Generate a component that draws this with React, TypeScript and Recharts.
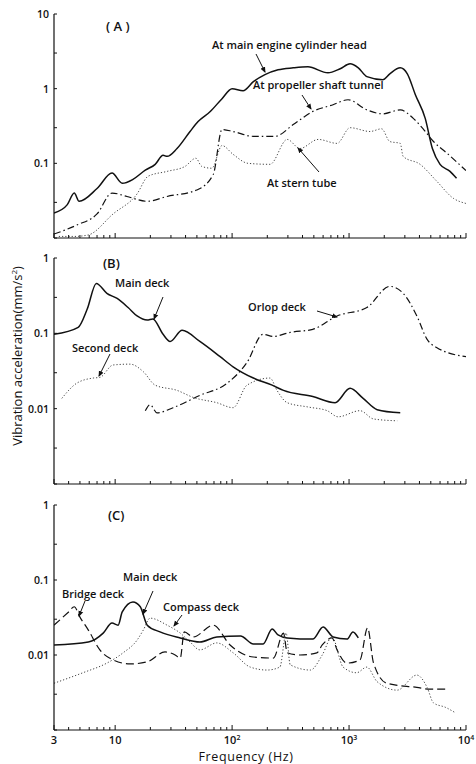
import { LineChart, Line, XAxis, YAxis } from "recharts";

// frequency (Hz) / acceleration (mm/s^2)
const engineHead = [
  { f: 3, v: 0.0216 }, { f: 3.9, v: 0.028 }, { f: 4.47, v: 0.04 }, { f: 4.92, v: 0.031 },
  { f: 7, v: 0.046 }, { f: 9.4, v: 0.074 }, { f: 11.5, v: 0.054 }, { f: 14.2, v: 0.061 },
  { f: 18.1, v: 0.081 }, { f: 22, v: 0.097 }, { f: 25.7, v: 0.128 }, { f: 27.8, v: 0.124 },
  { f: 33.8, v: 0.158 }, { f: 43.7, v: 0.267 }, { f: 51.2, v: 0.363 }, { f: 64.7, v: 0.49 },
  { f: 82, v: 0.735 }, { f: 100, v: 1.0 }, { f: 124, v: 0.94 }, { f: 152, v: 1.24 },
  { f: 191, v: 1.54 }, { f: 247, v: 1.79 }, { f: 333, v: 1.9 }, { f: 445, v: 1.96 },
  { f: 660, v: 1.63 }, { f: 840, v: 1.85 }, { f: 1020, v: 2.15 }, { f: 1200, v: 1.9 },
  { f: 1420, v: 1.45 }, { f: 1940, v: 1.32 }, { f: 2230, v: 1.58 }, { f: 2740, v: 1.9 },
  { f: 3150, v: 1.58 }, { f: 3690, v: 0.83 }, { f: 4480, v: 0.4 }, { f: 5160, v: 0.158 },
  { f: 6000, v: 0.097 }, { f: 7300, v: 0.078 }, { f: 8300, v: 0.063 },
];
const shaftTunnel = [
  { f: 3, v: 0.0113 }, { f: 4.7, v: 0.0149 }, { f: 7, v: 0.021 }, { f: 9.4, v: 0.04 },
  { f: 12.6, v: 0.036 }, { f: 18.8, v: 0.031 }, { f: 27.8, v: 0.036 }, { f: 50, v: 0.044 },
  { f: 69, v: 0.071 }, { f: 82, v: 0.284 }, { f: 102, v: 0.267 }, { f: 152, v: 0.23 },
  { f: 233, v: 0.23 }, { f: 333, v: 0.33 }, { f: 484, v: 0.49 }, { f: 731, v: 0.61 },
  { f: 980, v: 0.71 }, { f: 1420, v: 0.52 }, { f: 1940, v: 0.46 }, { f: 2740, v: 0.52 },
  { f: 3540, v: 0.4 }, { f: 4300, v: 0.29 }, { f: 5270, v: 0.196 }, { f: 6900, v: 0.136 },
  { f: 10000, v: 0.08 },
];
const sternTube = [
  { f: 3.3, v: 0.0105 }, { f: 4.5, v: 0.0105 }, { f: 5.9, v: 0.011 }, { f: 9.6, v: 0.021 },
  { f: 15.4, v: 0.039 }, { f: 19.1, v: 0.067 }, { f: 27.8, v: 0.078 }, { f: 39.6, v: 0.091 },
  { f: 49, v: 0.117 }, { f: 55, v: 0.091 }, { f: 67, v: 0.086 }, { f: 82, v: 0.173 },
  { f: 102, v: 0.132 }, { f: 137, v: 0.1 }, { f: 211, v: 0.097 }, { f: 296, v: 0.209 },
  { f: 380, v: 0.158 }, { f: 545, v: 0.209 }, { f: 790, v: 0.185 }, { f: 1020, v: 0.3 },
  { f: 1510, v: 0.267 }, { f: 1900, v: 0.29 }, { f: 2230, v: 0.196 }, { f: 2740, v: 0.185 },
  { f: 2900, v: 0.124 }, { f: 4050, v: 0.097 }, { f: 5600, v: 0.058 }, { f: 7800, v: 0.034 },
  { f: 10000, v: 0.029 },
];

const mainDeckB = [
  { f: 3, v: 0.097 }, { f: 4.83, v: 0.12 }, { f: 5.77, v: 0.21 }, { f: 6.9, v: 0.46 },
  { f: 8.5, v: 0.34 }, { f: 10.4, v: 0.29 }, { f: 12.9, v: 0.22 }, { f: 15.4, v: 0.17 },
  { f: 18.8, v: 0.15 }, { f: 21, v: 0.155 }, { f: 25.7, v: 0.097 }, { f: 29.5, v: 0.078 },
  { f: 37.4, v: 0.11 }, { f: 53, v: 0.078 }, { f: 79, v: 0.049 }, { f: 102, v: 0.036 },
  { f: 152, v: 0.0255 }, { f: 220, v: 0.0205 }, { f: 275, v: 0.0175 }, { f: 490, v: 0.0145 },
  { f: 760, v: 0.012 }, { f: 1020, v: 0.0186 }, { f: 1320, v: 0.0137 }, { f: 1740, v: 0.0097 },
  { f: 2740, v: 0.0088 },
];
const secondDeckB = [
  { f: 3.5, v: 0.0137 }, { f: 4.7, v: 0.0218 }, { f: 6.5, v: 0.0255 }, { f: 7.4, v: 0.026 },
  { f: 9.6, v: 0.038 }, { f: 13.4, v: 0.039 }, { f: 17.4, v: 0.031 }, { f: 22, v: 0.0205 },
  { f: 33.8, v: 0.0175 }, { f: 46.5, v: 0.0141 }, { f: 74, v: 0.012 }, { f: 102, v: 0.0103 },
  { f: 134, v: 0.0205 }, { f: 211, v: 0.0255 }, { f: 242, v: 0.0175 }, { f: 296, v: 0.012 },
  { f: 450, v: 0.0105 }, { f: 650, v: 0.0094 }, { f: 805, v: 0.0078 }, { f: 1240, v: 0.0094 },
  { f: 1620, v: 0.0073 }, { f: 2580, v: 0.0069 },
];
const orlopDeckB = [
  { f: 18.1, v: 0.0094 }, { f: 19.9, v: 0.0113 }, { f: 22.8, v: 0.0088 }, { f: 31.3, v: 0.0103 },
  { f: 53, v: 0.015 }, { f: 91, v: 0.0218 }, { f: 134, v: 0.041 }, { f: 184, v: 0.097 },
  { f: 225, v: 0.091 }, { f: 314, v: 0.103 }, { f: 490, v: 0.113 }, { f: 790, v: 0.17 },
  { f: 1420, v: 0.22 }, { f: 2230, v: 0.42 }, { f: 2900, v: 0.34 }, { f: 3800, v: 0.17 },
  { f: 4650, v: 0.083 }, { f: 5600, v: 0.065 }, { f: 10000, v: 0.049 },
];

const mainDeckC = [
  { f: 3, v: 0.0136 }, { f: 5.9, v: 0.0149 }, { f: 7.9, v: 0.0196 }, { f: 9.4, v: 0.0267 },
  { f: 10.6, v: 0.025 }, { f: 11.5, v: 0.0375 }, { f: 14.2, v: 0.051 }, { f: 16.4, v: 0.044 },
  { f: 18.8, v: 0.025 }, { f: 24.2, v: 0.0203 }, { f: 36, v: 0.0169 }, { f: 53, v: 0.0149 },
  { f: 74, v: 0.0174 }, { f: 118, v: 0.0179 }, { f: 152, v: 0.014 }, { f: 184, v: 0.014 },
  { f: 220, v: 0.0222 }, { f: 247, v: 0.0185 }, { f: 296, v: 0.0169 }, { f: 490, v: 0.0163 },
  { f: 600, v: 0.0236 }, { f: 731, v: 0.0174 }, { f: 960, v: 0.0163 }, { f: 1080, v: 0.0203 },
  { f: 1200, v: 0.0169 },
];
const bridgeDeckC = [
  { f: 3, v: 0.025 }, { f: 4.0, v: 0.0375 }, { f: 4.47, v: 0.044 }, { f: 5.0, v: 0.032 },
  { f: 5.9, v: 0.0215 }, { f: 7.4, v: 0.0117 }, { f: 9.6, v: 0.0086 }, { f: 13.4, v: 0.0076 },
  { f: 18.8, v: 0.0081 }, { f: 26.7, v: 0.011 }, { f: 32.6, v: 0.01 }, { f: 36, v: 0.0091 },
  { f: 39, v: 0.0203 }, { f: 46.5, v: 0.0174 }, { f: 69, v: 0.025 }, { f: 96, v: 0.0136 },
  { f: 152, v: 0.0094 }, { f: 225, v: 0.0091 }, { f: 275, v: 0.0196 }, { f: 296, v: 0.0107 },
  { f: 380, v: 0.01 }, { f: 530, v: 0.0107 }, { f: 590, v: 0.0136 }, { f: 715, v: 0.0169 },
  { f: 790, v: 0.0117 }, { f: 960, v: 0.0078 }, { f: 1240, v: 0.0086 }, { f: 1440, v: 0.0229 },
  { f: 1620, v: 0.0078 }, { f: 2100, v: 0.0042 }, { f: 3800, v: 0.0037 }, { f: 4930, v: 0.0035 },
  { f: 6900, v: 0.0035 },
];
const compassDeckC = [
  { f: 3, v: 0.0042 }, { f: 5.3, v: 0.0058 }, { f: 8.5, v: 0.0078 }, { f: 11.7, v: 0.0107 },
  { f: 15.4, v: 0.0158 }, { f: 17.4, v: 0.0215 }, { f: 19.9, v: 0.031 }, { f: 27.8, v: 0.025 },
  { f: 36, v: 0.0196 }, { f: 43.7, v: 0.0149 }, { f: 53, v: 0.0117 }, { f: 74, v: 0.0145 },
  { f: 102, v: 0.0107 }, { f: 143, v: 0.0069 }, { f: 199, v: 0.0063 }, { f: 256, v: 0.0069 },
  { f: 290, v: 0.0196 }, { f: 314, v: 0.0074 }, { f: 467, v: 0.0063 }, { f: 590, v: 0.01 },
  { f: 715, v: 0.0174 }, { f: 890, v: 0.0069 }, { f: 1160, v: 0.0058 }, { f: 1420, v: 0.0069 },
  { f: 1740, v: 0.0044 }, { f: 2580, v: 0.0034 }, { f: 3800, v: 0.0054 }, { f: 4650, v: 0.0037 },
  { f: 5270, v: 0.0023 }, { f: 6700, v: 0.002 }, { f: 8100, v: 0.0017 },
];

const freqTicks = [
  3, 4, 5, 6, 7, 8, 9, 10, 20, 30, 40, 50, 60, 70, 80, 90, 100, 200, 300, 400, 500, 600, 700,
  800, 900, 1000, 2000, 3000, 4000, 5000, 6000, 7000, 8000, 9000, 10000,
];
const freqLabels: Record<number, [string, string]> = {
  3: ["3", ""],
  10: ["10", ""],
  100: ["10", "2"],
  1000: ["10", "3"],
  10000: ["10", "4"],
};
const accTicksA = [0.01, 0.03, 0.1, 0.3, 1, 3, 10];
const accTicksBC = [0.001, 0.003, 0.01, 0.03, 0.1, 0.3, 1];
const accLabelsA: Record<string, string> = { "10": "10", "1": "1", "0.1": "0.1" };
const accLabelsBC: Record<string, string> = { "1": "1", "0.1": "0.1", "0.01": "0.01" };

const FONT = "'Open Sans', 'DejaVu Sans', sans-serif";
const INK = "#111";

const solid = { stroke: INK, strokeWidth: 1.5 };
const dashDot = { stroke: INK, strokeWidth: 1.2, strokeDasharray: "7 3 1.5 3" };
const longDash = { stroke: INK, strokeWidth: 1.2, strokeDasharray: "8 4" };
const dotted = { stroke: "#444", strokeWidth: 1, strokeDasharray: "1.2 2" };

function XTick({ x, y, payload, showLabel }: any) {
  const major = [3, 10, 100, 1000, 10000].includes(payload.value);
  const lab = freqLabels[payload.value];
  return (
    <g>
      <line x1={x} x2={x} y1={y} y2={y - (major ? 5 : 3)} stroke={INK} strokeWidth={1} />
      {showLabel && lab && (
        <text x={x} y={y + 14} textAnchor="middle" fontSize={11} fontWeight={600} fontFamily={FONT} fill={INK}>
          {lab[0]}
          {lab[1] && (
            <tspan dy={-4} fontSize={7}>
              {lab[1]}
            </tspan>
          )}
        </text>
      )}
    </g>
  );
}

function YTick({ x, y, payload, labels }: any) {
  const lab = labels[String(payload.value)];
  return (
    <g>
      <line x1={x} x2={x + 3} y1={y} y2={y} stroke={INK} strokeWidth={1} />
      {lab && (
        <text x={x - 5} y={y + 4} textAnchor="end" fontSize={10.5} fontWeight={600} fontFamily={FONT} fill={INK}>
          {lab}
        </text>
      )}
    </g>
  );
}

type Series = { data: { f: number; v: number }[]; style: any; name: string };

function Panel({
  top, height, margin, domain, ticks, labels, series, showLabels,
}: {
  top: number; height: number; margin: any; domain: [number, number]; ticks: number[];
  labels: Record<string, string>; series: Series[]; showLabels: boolean;
}) {
  return (
    <div style={{ position: "absolute", left: 0, top }}>
      <LineChart width={476} height={height} margin={margin}>
        <XAxis
          dataKey="f"
          type="number"
          scale="log"
          domain={[3, 10000]}
          ticks={freqTicks}
          interval={0}
          height={1}
          tickSize={0}
          tickMargin={0}
          allowDataOverflow
          axisLine={{ stroke: INK, strokeWidth: 1.2 }}
          tick={<XTick showLabel={showLabels} />}
        />
        <YAxis
          type="number"
          scale="log"
          domain={domain}
          ticks={ticks}
          interval={0}
          width={1}
          tickSize={0}
          tickMargin={0}
          allowDataOverflow
          axisLine={{ stroke: INK, strokeWidth: 1.2 }}
          tick={<YTick labels={labels} />}
        />
        {series.map((s) => (
          <Line
            key={s.name}
            name={s.name}
            data={s.data}
            dataKey="v"
            type="monotone"
            dot={false}
            activeDot={false}
            isAnimationActive={false}
            {...s.style}
          />
        ))}
      </LineChart>
    </div>
  );
}

function Note({ x, y, text, size = 11 }: { x: number; y: number; text: string; size?: number }) {
  return (
    <text x={x} y={y} fontSize={size} fontWeight={600} fontFamily={FONT} fill={INK}>
      {text}
    </text>
  );
}

function Arrow({ x1, y1, x2, y2 }: { x1: number; y1: number; x2: number; y2: number }) {
  return <line x1={x1} y1={y1} x2={x2} y2={y2} stroke={INK} strokeWidth={1} markerEnd="url(#head)" />;
}

export default function App() {
  return (
    <div style={{ position: "absolute", left: 0, top: 0, width: 476, height: 764, background: "#fff" }}>
      <Panel
        top={0}
        height={250}
        margin={{ top: 14, right: 10, bottom: 11, left: 53 }}
        domain={[0.01, 10]}
        ticks={accTicksA}
        labels={accLabelsA}
        showLabels={false}
        series={[
          { name: "At main engine cylinder head", data: engineHead, style: solid },
          { name: "At propeller shaft tunnel", data: shaftTunnel, style: dashDot },
          { name: "At stern tube", data: sternTube, style: dotted },
        ]}
      />
      <Panel
        top={250}
        height={240}
        margin={{ top: 8, right: 10, bottom: 5, left: 53 }}
        domain={[0.001, 1]}
        ticks={accTicksBC}
        labels={accLabelsBC}
        showLabels={false}
        series={[
          { name: "Main deck", data: mainDeckB, style: solid },
          { name: "Second deck", data: secondDeckB, style: dotted },
          { name: "Orlop deck", data: orlopDeckB, style: dashDot },
        ]}
      />
      <Panel
        top={495}
        height={269}
        margin={{ top: 10, right: 10, bottom: 33, left: 53 }}
        domain={[0.001, 1]}
        ticks={accTicksBC}
        labels={accLabelsBC}
        showLabels={true}
        series={[
          { name: "Main deck", data: mainDeckC, style: solid },
          { name: "Bridge deck", data: bridgeDeckC, style: longDash },
          { name: "Compass deck", data: compassDeckC, style: dotted },
        ]}
      />
      <svg
        width={476}
        height={764}
        style={{ position: "absolute", left: 0, top: 0, pointerEvents: "none" }}
      >
        <defs>
          <marker id="head" markerWidth="6" markerHeight="6" refX="5" refY="3" orient="auto">
            <path d="M0,0.5 L6,3 L0,5.5 Z" fill={INK} />
          </marker>
        </defs>
        <Note x={106} y={31} text="( A )" size={13} />
        <Note x={212} y={49} text="At main engine cylinder head" />
        <Arrow x1={256} y1={54} x2={265} y2={72} />
        <Note x={253} y={89} text="At propeller shaft tunnel" />
        <Arrow x1={302} y1={95} x2={311} y2={109} />
        <Note x={267} y={187} text="At stern tube" />
        <Arrow x1={319} y1={172} x2={298} y2={148} />

        <Note x={103} y={268} text="(B)" size={13} />
        <Note x={115} y={287} text="Main deck" />
        <Arrow x1={163} y1={297} x2={154} y2={319} />
        <Note x={248} y={311} text="Orlop deck" />
        <Arrow x1={317} y1={311} x2={337} y2={317} />
        <Note x={72} y={352} text="Second deck" />
        <Arrow x1={110} y1={354} x2={99} y2={376} />

        <Note x={108} y={520} text="(C)" size={13} />
        <Note x={123} y={581} text="Main deck" />
        <Arrow x1={153} y1={591} x2={143} y2={614} />
        <Note x={62} y={598} text="Bridge deck" />
        <Arrow x1={85} y1={601} x2={79} y2={616} />
        <Note x={163} y={611} text="Compass deck" />
        <Arrow x1={182} y1={615} x2={174} y2={626} />

        <text x={246} y={761} textAnchor="middle" fontSize={12.5} fontFamily={FONT} fill={INK} letterSpacing={0.6}>
          Frequency (Hz)
        </text>
        <text
          x={0}
          y={0}
          transform="translate(22,356) rotate(-90)"
          textAnchor="middle"
          fontSize={13}
          fontFamily={FONT}
          fill={INK}
        >
          Vibration acceleration(mm/s
          <tspan dy={-5} fontSize={8}>2</tspan>
          <tspan dy={5}>)</tspan>
        </text>
      </svg>
    </div>
  );
}
